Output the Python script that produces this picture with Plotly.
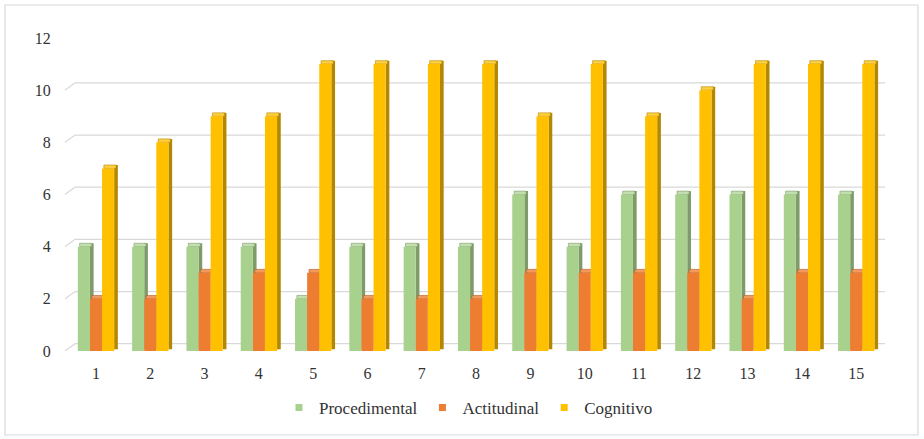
import plotly.graph_objects as go

# Survey results per item (1..15) for the three assessment dimensions
items = list(range(1, 16))
procedimental = [4, 4, 4, 4, 2, 4, 4, 4, 6, 4, 6, 6, 6, 6, 6]
actitudinal = [2, 2, 3, 3, 3, 2, 2, 2, 3, 3, 3, 3, 2, 3, 3]
cognitivo = [7, 8, 9, 9, 11, 11, 11, 11, 9, 11, 9, 10, 11, 11, 11]
y_ticks = [0, 2, 4, 6, 8, 10, 12]

series = [
    ("Procedimental", procedimental, "#A9D18E", "#7E9B69", "#C2DFAE"),
    ("Actitudinal", actitudinal, "#ED7D31", "#B35D22", "#F29A5E"),
    ("Cognitivo", cognitivo, "#FFC000", "#B38700", "#FFD040"),
]

FONT = "Times New Roman, Liberation Serif, DejaVu Serif, serif"
W = 0.223      # front face width (category units)
DX = 0.068     # depth of the side face along x
DY = 0.13      # depth rise along y
OFFS = [-0.334, -0.111, 0.112]

fig = go.Figure()

for (name, vals, front, side, top), off in zip(series, OFFS):
    # right-hand side face of each bar
    fig.add_trace(go.Bar(
        x=items, y=[v + DY / 2 for v in vals], base=DY / 2,
        offset=off + W, width=DX, marker=dict(color=side, line=dict(width=0)),
        showlegend=False, hoverinfo="skip"))
    # top face
    fig.add_trace(go.Bar(
        x=items, y=[DY] * len(vals), base=vals,
        offset=off + DX / 2, width=W, marker=dict(color=top, line=dict(color=side, width=0.6)),
        showlegend=False, hoverinfo="skip"))
    # front face
    fig.add_trace(go.Bar(
        x=items, y=vals, name=name,
        offset=off, width=W, marker=dict(color=front, line=dict(width=0)),
        showlegend=False))

# small square legend keys
for name, _, front, _, _ in series:
    fig.add_trace(go.Scatter(
        x=[None], y=[None], mode="markers", name=name,
        marker=dict(symbol="square", size=7, color=front)))

# gridlines on the back wall with the slanted floor/wall stub
X_BACK = 10 / 820
Y_BACK = 0.28
for t in y_ticks:
    fig.add_shape(
        type="path", xref="paper", yref="y",
        path=f"M 0,{t} L {X_BACK},{t + Y_BACK} L 1,{t + Y_BACK}",
        line=dict(color="#D9D9D9", width=1.2), layer="below")

# outer frame
fig.add_shape(type="rect", xref="paper", yref="paper",
              x0=-0.0732, x1=1.0402, y0=-0.2684, y1=1.1054,
              line=dict(color="#D9D9D9", width=1.2), layer="below")

fig.update_layout(
    width=924, height=439,
    margin=dict(l=65, r=39, t=38, b=88, autoexpand=False),
    paper_bgcolor="white", plot_bgcolor="white",
    barmode="overlay",
    font=dict(family=FONT, size=16, color="#333333"),
    showlegend=True,
    legend=dict(orientation="h", xref="container", x=0.507, xanchor="center",
                yref="container", y=0.03, yanchor="bottom",
                font=dict(family=FONT, size=17, color="#333333"),
                itemwidth=30, tracegroupgap=0),
    xaxis=dict(range=[0.43, 15.53], tickmode="array", tickvals=items,
               ticktext=[str(i) for i in items], showgrid=False, zeroline=False,
               showline=False, ticks="outside", ticklen=8, tickcolor="rgba(0,0,0,0)",
               automargin=False),
    yaxis=dict(range=[0, 12], tickmode="array", tickvals=y_ticks,
               showgrid=False, zeroline=False, showline=False,
               ticks="outside", ticklen=10, tickcolor="rgba(0,0,0,0)",
               automargin=False),
)

fig.write_html("out.html")
